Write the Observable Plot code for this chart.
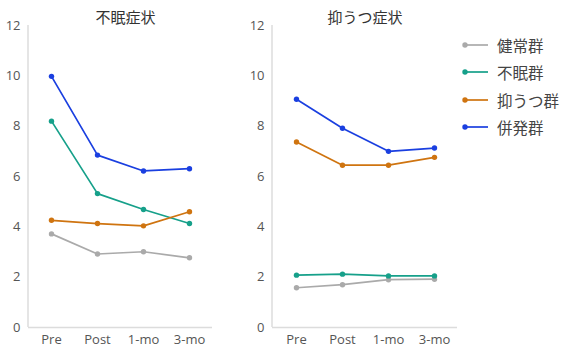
<!DOCTYPE html>
<html><head><meta charset="utf-8">
<script src="https://cdn.jsdelivr.net/npm/d3@7"></script>
<script src="https://cdn.jsdelivr.net/npm/@observablehq/plot@0.6"></script>
<style>
body{margin:0;background:#fff;font-family:"Open Sans","Noto Sans CJK JP",sans-serif;}
#wrap{display:flex;width:566px;height:351px;}
#legend{padding-top:31px;padding-left:2px;}
.item{display:flex;align-items:center;height:27.5px;font-size:15.5px;color:#444;font-family:"Noto Sans CJK JP",sans-serif;}
.item svg{margin-right:8px;}
</style></head><body><div id="wrap"><div id="p1"></div><div id="p2"></div><div id="legend"></div></div>
<script>
const timepoints = ["Pre","Post","1-mo","3-mo"];
const groups = ["健常群","不眠群","抑うつ群","併発群"];
const colors = ["#aaaaaa","#16a08a","#cf7410","#1a3fe0"];
const panelTitles = ["不眠症状","抑うつ症状"];
const yTicks = [0,2,4,6,8,10,12];

// 不眠症状 (insomnia symptoms)
const insHealthy = [3.72,2.92,3.01,2.77];
const insInsomnia = [8.20,5.32,4.69,4.13];
const insDepress = [4.26,4.13,4.04,4.60];
const insComorbid = [9.98,6.85,6.22,6.31];
// 抑うつ症状 (depressive symptoms)
const depHealthy = [1.58,1.70,1.90,1.92];
const depInsomnia = [2.08,2.12,2.05,2.05];
const depDepress = [7.37,6.45,6.45,6.76];
const depComorbid = [9.07,7.92,7.00,7.13];

function rows(series){
  const out=[];
  series.forEach((vals,gi)=>vals.forEach((v,ti)=>out.push({g:groups[gi],t:timepoints[ti],v})));
  return out;
}
const insRows = rows([insHealthy,insInsomnia,insDepress,insComorbid]);
const depRows = rows([depHealthy,depInsomnia,depDepress,depComorbid]);

const font = '"Open Sans","Noto Sans CJK JP",sans-serif';
const cjk = '"Noto Sans CJK JP",sans-serif';
function panel(title, data, width, marginRight, dx){
  return Plot.plot({
    width, height:351, marginLeft:28, marginRight, marginTop:25, marginBottom:24,
    style:{fontFamily:font, fontSize:"13px", color:"#555", background:"transparent"},
    x:{type:"point", domain:timepoints, padding:0.5, label:null},
    y:{domain:[0,12], label:null},
    color:{domain:groups, range:colors},
    marks:[
      Plot.ruleY([0],{stroke:"#dcdcdc", strokeWidth:1.5}),
      Plot.axisY({ticks:yTicks, tickSize:0, tickPadding:8, label:null, fill:"#555", fontSize:13}),
      Plot.axisX({tickSize:0, tickPadding:7, label:null, fill:"#555", fontSize:13}),
      (index, scales, values, dims) => {
        const x = dims.marginLeft;
        return d3.create("svg:line").attr("x1",x).attr("x2",x)
          .attr("y1",scales.y(12)).attr("y2",scales.y(0))
          .attr("stroke","#dcdcdc").attr("stroke-width",1.5).node();
      },
      Plot.line(data,{x:"t", y:"v", z:"g", stroke:"g", strokeWidth:1.7}),
      Plot.dot(data,{x:"t", y:"v", fill:"g", r:2.7}),
      Plot.text([title],{frameAnchor:"top", dy:-13, dx, fontSize:15, fill:"#333", fontFamily:cjk})
    ]
  });
}
document.getElementById("p1").append(panel(panelTitles[0], insRows, 244, 32, 5));
document.getElementById("p2").append(panel(panelTitles[1], depRows, 215, 2, 0));

const lg = document.getElementById("legend");
groups.forEach((g,i)=>{
  const d = document.createElement("div");
  d.className="item";
  d.innerHTML = `<svg width="28" height="10"><line x1="3" x2="27" y1="5" y2="5" stroke="${colors[i]}" stroke-width="1.7"/><circle cx="4" cy="5" r="2.7" fill="${colors[i]}"/></svg><span>${g}</span>`;
  lg.append(d);
});
</script></body></html>
